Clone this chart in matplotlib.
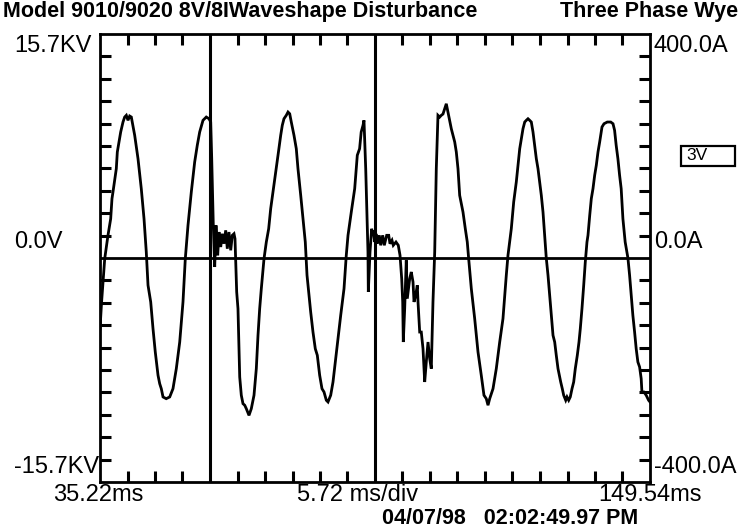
import matplotlib
matplotlib.use("Agg")
import matplotlib.pyplot as plt
from matplotlib.patches import Rectangle
import numpy as np

plt.rcParams['font.family'] = ['Liberation Sans', 'DejaVu Sans']

# Axis scale of the recorder screen
T_START = 35.22
T_END = 149.54
V_MAX = 15.7
N_DIV = 20
MARKERS_DIV = [4, 10]  # full height cursor lines

title_left = "Model 9010/9020 8V/8IWaveshape Disturbance"
title_right = "Three Phase Wye"
left_labels = ["15.7KV", "0.0V", "-15.7KV"]
right_labels = ["400.0A", "0.0A", "-400.0A"]
bottom_labels = ["35.22ms", "5.72 ms/div", "149.54ms"]
stamp = "04/07/98   02:02:49.97 PM"
channel = "3V"

# Waveform: time (ms), voltage (kV)
t_ms = [35.22, 35.55, 36.20, 36.88, 37.44, 37.71, 37.92, 38.61, 38.82, 39.52,
        40.00, 40.35, 40.69, 41.04, 41.39, 41.73, 42.43, 43.12, 43.80, 44.37,
        44.84, 45.20, 45.76, 46.24, 46.71, 47.28, 47.63, 47.96, 48.32, 48.98,
        49.71, 50.39, 51.08, 51.79, 52.47, 52.95, 53.51, 54.20, 54.90, 55.44,
        55.94, 56.63, 57.31, 57.88, 58.23, 58.44, 58.77, 59.06, 59.33, 59.68,
        59.95, 60.31, 60.64, 60.99, 61.35, 61.68, 62.03, 62.39, 62.72, 63.07,
        63.28, 63.63, 63.90, 64.26, 64.59, 64.94, 65.30, 65.63, 66.19, 66.67,
        67.23, 67.71, 68.06, 68.41, 68.75, 69.31, 69.79, 70.28, 70.70, 71.18,
        71.66, 72.22, 72.78, 73.11, 73.46, 73.94, 74.30, 74.65, 74.98, 75.54,
        76.02, 76.37, 76.94, 77.41, 77.89, 78.25, 78.60, 79.01, 79.49, 79.97,
        80.39, 80.88, 81.36, 81.78, 82.26, 82.61, 83.17, 83.65, 84.13, 84.69,
        85.25, 85.94, 86.41, 86.77, 87.45, 88.16, 88.70, 89.18, 89.51, 89.89,
        90.09, 90.45, 90.72, 90.92, 90.99, 91.34, 91.69, 91.90, 92.03, 92.32,
        92.59, 92.86, 93.27, 93.56, 93.98, 94.31, 94.81, 95.23, 95.50, 95.91,
        96.18, 96.74, 97.22, 97.58, 97.93, 98.14, 98.26, 98.55, 98.88, 99.09,
        99.59, 99.92, 100.28, 100.49, 100.84, 101.17, 101.32, 101.67, 102.00, 102.36,
        102.71, 103.04, 103.40, 103.75, 104.08, 104.43, 104.79, 105.12, 105.47, 105.83,
        106.16, 106.51, 106.87, 107.20, 107.55, 108.24, 108.95, 109.28, 109.63, 109.98,
        110.67, 111.15, 111.56, 111.85, 112.40, 113.10, 113.79, 114.47, 115.03, 115.51,
        115.87, 116.22, 116.91, 117.59, 118.30, 118.98, 119.67, 120.02, 120.71, 121.21,
        121.75, 122.46, 123.14, 123.50, 123.83, 124.18, 124.53, 124.87, 125.22, 125.57,
        125.91, 126.26, 126.61, 126.95, 127.30, 127.65, 127.98, 128.34, 128.69, 129.02,
        129.38, 129.73, 130.06, 130.42, 130.98, 131.31, 131.60, 132.02, 132.29, 132.64,
        132.97, 133.33, 133.68, 134.01, 134.43, 134.78, 135.05, 135.40, 135.76, 136.09,
        136.44, 136.65, 137.01, 137.34, 137.69, 138.04, 138.38, 138.73, 139.08, 139.29,
        139.56, 139.98, 140.66, 141.37, 141.85, 142.18, 142.51, 142.87, 143.22, 143.55,
        143.91, 144.38, 144.95, 145.30, 145.63, 145.98, 146.34, 146.67, 147.02, 147.38,
        147.71, 147.86, 148.27, 148.75, 149.25, 149.54]
volts_kv = [-4.96, -3.08, -0.05, 1.59, 2.75, 4.16, 4.63, 6.26, 7.43, 8.83,
            9.53, 9.88, 10.00, 9.65, 9.95, 9.88, 8.60, 6.96, 4.86, 2.75,
            0.42, -1.91, -3.08, -4.96, -6.59, -8.22, -8.81, -9.16, -9.74, -9.86,
            -9.74, -9.16, -7.76, -5.89, -3.08, -0.05, 2.29, 4.63, 6.73, 7.90,
            8.83, 9.65, 9.88, 9.76, 9.53, 6.96, 2.29, -0.63, 2.29, 0.19,
            1.82, 0.77, 1.70, 1.00, 1.94, 0.65, 1.82, 0.54, 1.59, 1.70,
            1.35, -2.38, -3.55, -8.34, -9.62, -10.21, -10.32, -10.56, -11.03, -10.56,
            -9.62, -7.76, -5.42, -3.55, -2.15, -0.05, 1.12, 2.05, 3.46, 4.63,
            5.80, 7.20, 8.60, 9.30, 9.76, 10.00, 10.23, 10.11, 9.53, 8.60,
            7.66, 6.26, 4.39, 2.75, 1.12, -1.21, -2.38, -3.78, -5.19, -6.36,
            -6.82, -8.22, -9.16, -9.39, -9.97, -10.09, -9.62, -8.69, -7.29, -5.66,
            -4.02, -2.15, 0.19, 1.59, 3.22, 4.86, 7.20, 7.66, 8.83, 9.30,
            9.65, 6.26, 2.75, 0.42, -2.38, 0.42, 2.05, 1.59, 1.94, 1.12,
            1.70, 1.00, 1.59, 0.89, 1.59, 0.89, 1.59, 1.59, 1.00, 1.24,
            0.89, 1.12, 0.89, 0.19, -1.45, -3.08, -5.89, -3.55, -0.16, -2.85,
            -1.45, -0.98, -1.68, -3.08, -2.61, -1.91, -3.08, -5.19, -5.19, -6.36,
            -8.69, -7.29, -5.89, -7.06, -7.76, -3.08, 0.42, 6.26, 10.00, 9.88,
            10.00, 10.09, 10.46, 10.81, 10.23, 9.06, 8.13, 7.43, 6.26, 4.39,
            3.22, 2.05, 1.12, -0.05, -2.15, -4.25, -6.59, -8.22, -9.62, -9.86,
            -10.32, -9.86, -9.16, -7.76, -5.89, -4.25, -1.21, 0.19, 2.05, 3.93,
            5.33, 7.66, 9.06, 9.53, 9.65, 9.76, 9.65, 9.53, 8.83, 7.90,
            6.96, 6.26, 5.33, 4.39, 3.22, 1.59, 0.00, -1.21, -2.61, -4.02,
            -5.42, -5.89, -6.82, -7.76, -8.69, -9.16, -9.62, -9.97, -9.74, -9.97,
            -9.74, -9.16, -8.69, -7.76, -6.82, -5.89, -4.96, -3.55, -1.91, -0.28,
            1.12, 1.59, 2.99, 4.16, 4.86, 5.80, 6.50, 7.43, 8.13, 8.60,
            9.18, 9.41, 9.53, 9.53, 9.41, 8.95, 7.90, 6.96, 5.80, 4.86,
            2.75, 1.12, 0.00, -1.21, -2.61, -4.02, -5.19, -6.36, -7.29, -7.64,
            -8.46, -9.39, -9.39, -9.62, -9.97, -10.09]

W, H = 740, 531
fig = plt.figure(figsize=(W / 100, H / 100), dpi=100)
ax = fig.add_axes([100 / W, 1 - 482 / H, 550 / W, 448 / H])


def px(x, y):
    # figure pixel -> figure fraction
    return x / W, 1 - y / H


ax.plot(t_ms, volts_kv, color="black", lw=2.0, solid_joinstyle="miter")
ax.axhline(0, color="black", lw=2.0)

div = (T_END - T_START) / N_DIV
for d in MARKERS_DIV:
    ax.axvline(T_START + d * div, color="black", lw=2.2)

ax.set_xlim(T_START, T_END)
ax.set_ylim(-V_MAX, V_MAX)
xt = [T_START + k * div for k in range(1, N_DIV) if k not in MARKERS_DIV]
yt = [V_MAX * k / 10 for k in range(-9, 10) if k != 0]
ax.set_xticks(xt)
ax.set_yticks(yt)
ax.tick_params(direction="in", length=8, width=2.2, top=True, right=True,
               labelbottom=False, labelleft=False)
for s in ax.spines.values():
    s.set_linewidth(2.0)

big = 17
bold = 15.5
fig.text(*px(3, 12), title_left, ha="left", va="center", size=bold, weight="bold")
fig.text(*px(738, 12), title_right, ha="right", va="center", size=bold, weight="bold")

for lab, y in zip(left_labels, [46, 242, 467]):
    fig.text(*px(14, y), lab, ha="left", va="center", size=big)
for lab, y in zip(right_labels, [46, 242, 467]):
    fig.text(*px(654, y), lab, ha="left", va="center", size=big)
for lab, x in zip(bottom_labels, [98, 358, 650]):
    fig.text(*px(x, 495), lab, ha="center", va="center", size=big)

fig.text(*px(510, 519), stamp, ha="center", va="center", size=bold, weight="bold")

fig.add_artist(Rectangle(px(681, 166), 54 / W, 20 / H, transform=fig.transFigure,
                         fill=False, lw=1.6, edgecolor="black"))
fig.text(*px(686, 156), channel, ha="left", va="center", size=12.5)

fig.savefig("out.png", dpi=100)
